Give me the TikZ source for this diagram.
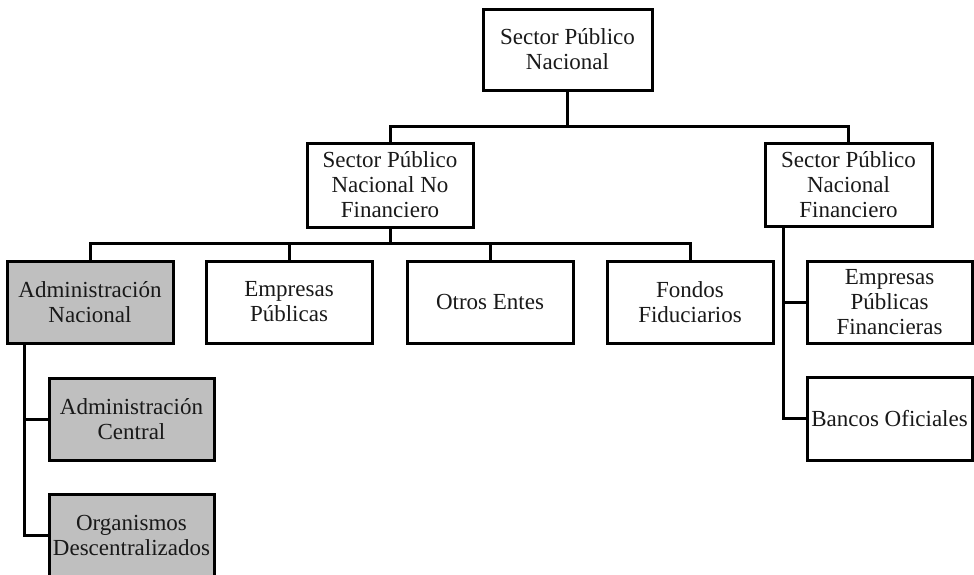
\documentclass[tikz,border=0pt]{standalone}
\usepackage{fontspec}
\setmainfont{Liberation Serif}
\begin{document}
\begin{tikzpicture}[x=1pt,y=-1pt,
  box/.style={draw=black, line width=3pt, fill=white, align=center,
    minimum width=166pt, minimum height=82pt, inner sep=0pt,
    font=\fontsize{23pt}{25pt}\selectfont, text=black!90},
  graybox/.style={box, fill=black!25},
  link/.style={line width=3pt, line join=miter}]
\useasboundingbox (0,0) rectangle (974,574);
\clip (0,0) rectangle (974,574);

% headings
\node[box, minimum width=169pt, minimum height=81pt] (spn) at (567.5,49.5) {Sector Público\\Nacional};
\node[box, minimum height=84pt] (spnnf) at (390,185) {Sector Público\\Nacional No\\Financiero};
\node[box, minimum width=167pt, minimum height=83pt] (spnf) at (848.5,184.5) {Sector Público\\Nacional\\Financiero};

% non-financial branch
\node[graybox] (adn) at (90,302) {Administración\\Nacional};
\node[box] (emp) at (289,302) {Empresas\\Públicas};
\node[box] (otros) at (490,302) {Otros Entes};
\node[box] (fondos) at (690,302) {Fondos\\Fiduciarios};

\node[graybox, minimum width=165pt] (ac) at (131.5,419) {Administración\\Central};
\node[graybox, minimum width=165pt] (org) at (131.5,535) {Organismos\\Descentralizados};

% financial branch
\node[box, minimum width=165pt] (epf) at (889.5,302) {Empresas\\Públicas\\Financieras};
\node[box, minimum width=165pt, minimum height=83pt] (bancos) at (889.5,418.5) {Bancos Oficiales};

% junction points
\coordinate (j1) at (567.5,126);
\coordinate (j2) at (390,243);
\coordinate (rl) at (783,0);
\coordinate (ll) at (24,0);

% connectors
\draw[link] (spn.south) -- (j1);
\draw[link] (spnnf.north) |- (j1) -| (spnf.north);
\draw[link] (spnnf.south) -- (j2);
\draw[link] (adn.north) |- (j2) -| (fondos.north);
\draw[link] (emp.north) -- (emp.north |- j2);
\draw[link] (otros.north) -- (otros.north |- j2);
\draw[link] (spnf.south -| rl) |- (bancos.west);
\draw[link] (epf.west) -- (epf.west -| rl);
\draw[link] (adn.south -| ll) |- (org.west);
\draw[link] (ac.west) -- (ac.west -| ll);
\end{tikzpicture}
\end{document}
